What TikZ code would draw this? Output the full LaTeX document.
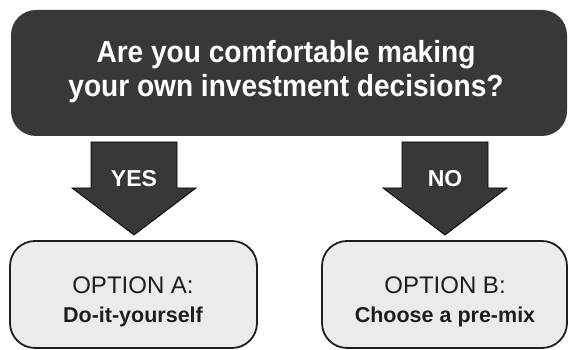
\documentclass[tikz,border=0pt]{standalone}
\usepackage{fontspec}
\setmainfont{Liberation Sans}
\newfontfamily\titlefont{Liberation Sans}[FakeStretch=0.92]
\usepackage{xcolor}
\usepackage{tikz}
\usetikzlibrary{positioning}
\definecolor{charcoal}{HTML}{383838}
\definecolor{paleGray}{HTML}{EBEBEB}
\definecolor{inkGray}{HTML}{1E1E1E}
\pgfdeclarelayer{nodelayer}
\pgfdeclarelayer{edgelayer}
\pgfsetlayers{edgelayer,nodelayer,main}
\tikzstyle{none}=[inner sep=0pt]
\tikzset{question/.style={fill=charcoal, draw=none, rounded corners=25pt,
minimum width=556pt, minimum height=126pt, inner sep=0pt}}
\tikzset{choice/.style={fill=paleGray, draw=inkGray, line width=1.8pt,
rounded corners=25pt, minimum height=107pt, inner sep=0pt}}
\tikzset{bigarrow/.style={fill=charcoal, draw=black, line width=0.8pt, line join=miter}}
\tikzset{qtext/.style={inner sep=0pt, anchor=base, text=white,
font=\titlefont\bfseries\fontsize{30.5}{34}\selectfont}}
\tikzset{answer/.style={inner sep=0pt, anchor=base, text=white,
font=\bfseries\fontsize{23}{27}\selectfont}}
\tikzset{opttitle/.style={inner sep=0pt, anchor=base, text=inkGray,
font=\fontsize{24}{28}\selectfont}}
\tikzset{optsub/.style={inner sep=0pt, anchor=base, text=inkGray,
font=\bfseries\fontsize{21.5}{25}\selectfont}}

\begin{document}
\begin{tikzpicture}[x=10pt, y=10pt]
        \useasboundingbox (0,0) rectangle (56.8,35);
        \begin{pgfonlayer}{nodelayer}
            \node [style=question] (0) at (28.9, 27.7) {};
            \node [style=qtext] (1) at (28.6, 28.7) {Are you comfortable making};
            \node [style=qtext] (2) at (28.6, 25.3) {your own investment decisions?};
            \node [style=choice, minimum width=247pt] (3) at (13.35, 5.55) {};
            \node [style=choice, minimum width=245pt] (4) at (44.45, 5.55) {};
            \node [style=answer] (5) at (13.4, 16.3) {YES};
            \node [style=answer] (6) at (44.5, 16.3) {NO};
            \node [style=opttitle] (7) at (13.3, 5.6) {OPTION A:};
            \node [style=optsub] (8) at (13.3, 2.7) {Do-it-yourself};
            \node [style=opttitle] (9) at (44.5, 5.6) {OPTION B:};
            \node [style=optsub] (10) at (44.5, 2.7) {Choose a pre-mix};
        \end{pgfonlayer}
        \begin{pgfonlayer}{edgelayer}
            % yes / no block arrows
            \draw [style=bigarrow] (9.1, 20.8) -- (17.7, 20.8) -- (17.7, 16.2) -- (19.6, 16.2)
                -- (13.4, 11.5) -- (7.2, 16.2) -- (9.1, 16.2) -- cycle;
            \draw [style=bigarrow] (40.2, 20.8) -- (48.8, 20.8) -- (48.8, 16.2) -- (50.7, 16.2)
                -- (44.5, 11.5) -- (38.3, 16.2) -- (40.2, 16.2) -- cycle;
        \end{pgfonlayer}
    \end{tikzpicture}
\end{document}
